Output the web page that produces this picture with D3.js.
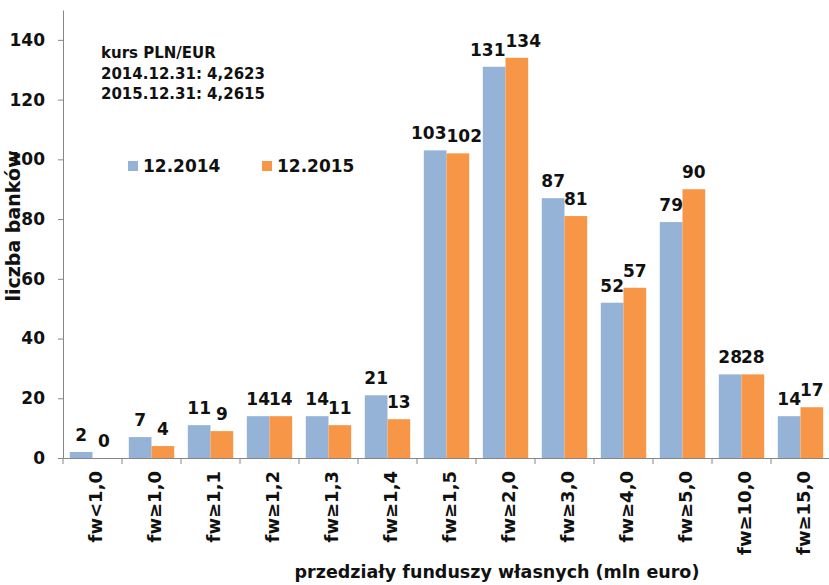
<!DOCTYPE html>
<html>
<head>
<meta charset="utf-8">
<script src="https://cdn.jsdelivr.net/npm/d3@7"></script>
<style>
  body { margin: 0; background: #fff; }
  svg { font-family: "DejaVu Sans", Verdana, sans-serif; font-weight: bold; }
</style>
</head>
<body>
<svg></svg>
<script>
const categories = ["fw<1,0", "fw≥1,0", "fw≥1,1", "fw≥1,2", "fw≥1,3", "fw≥1,4", "fw≥1,5", "fw≥2,0", "fw≥3,0", "fw≥4,0", "fw≥5,0", "fw≥10,0", "fw≥15,0"];
const seriesNames = ["12.2014", "12.2015"];
const values2014 = [2, 7, 11, 14, 14, 21, 103, 131, 87, 52, 79, 28, 14];
const values2015 = [0, 4, 9, 14, 11, 13, 102, 134, 81, 57, 90, 28, 17];
const yTicks = [0, 20, 40, 60, 80, 100, 120, 140];
const noteLines = ["kurs PLN/EUR", "2014.12.31: 4,2623", "2015.12.31: 4,2615"];

const colors = ["#95b3d7", "#f79646"];
const font = "DejaVu Sans";
const svg = d3.select("svg").attr("width", 829).attr("height", 585);
const plotLeft = 63, plotRight = 830, plotTop = 10, plotBottom = 458;

const x = d3.scaleBand().domain(categories).range([plotLeft, plotRight]);
const inner = d3.scaleBand().domain([0, 1]).range([0, x.bandwidth()]).paddingOuter(0.3).paddingInner(0);
const y = d3.scaleLinear().domain([0, 150]).range([plotBottom, plotTop]);

const rows = categories.map((c, i) => ({ cat: c, vals: [values2014[i], values2015[i]] }));

// bars
const groups = svg.append("g").selectAll("g").data(rows).join("g")
  .attr("transform", d => `translate(${x(d.cat)},0)`);
groups.selectAll("rect").data(d => d.vals).join("rect")
  .attr("x", (v, j) => inner(j))
  .attr("width", inner.bandwidth())
  .attr("y", v => y(v))
  .attr("height", v => plotBottom - y(v))
  .attr("fill", (v, j) => colors[j]);
groups.selectAll("text").data(d => d.vals).join("text")
  .attr("x", (v, j) => inner(j) + inner.bandwidth() / 2)
  .attr("y", v => y(v) - 11)
  .attr("text-anchor", "middle")
  .style("font-size", "17px")
  .attr("fill", "#111")
  .text(v => v);

// push apart the two value labels of a pair when they collide
groups.each(function () {
  const t = d3.select(this).selectAll("text").nodes();
  const a = t[0].getBBox(), b = t[1].getBBox();
  const overlap = (a.x + a.width) - b.x;
  if (overlap > 3 && Math.abs(a.y - b.y) < 10) {
    d3.select(t[0]).attr("x", +t[0].getAttribute("x") - overlap / 2);
    d3.select(t[1]).attr("x", +t[1].getAttribute("x") + overlap / 2);
  }
});

// y axis
const yAxis = svg.append("g").attr("transform", `translate(${plotLeft},0)`)
  .call(d3.axisLeft(y).tickValues(yTicks).tickSize(5).tickPadding(13).tickSizeOuter(0));
yAxis.select(".domain").attr("stroke", "#868686");
yAxis.selectAll(".tick line").attr("stroke", "#868686");
yAxis.selectAll(".tick text").style("font-size", "17px").style("font-family", font).style("font-weight", "bold").attr("fill", "#111");

// x axis
const xAxis = svg.append("g").attr("transform", `translate(0,${plotBottom})`)
  .call(d3.axisBottom(x).tickSize(0).tickSizeOuter(0).tickFormat(""));
xAxis.select(".domain").attr("stroke", "#868686");
xAxis.selectAll(".tick").remove();
xAxis.selectAll(".sep").data(categories.concat([null])).join("line")
  .attr("class", "sep")
  .attr("x1", (d, i) => plotLeft + i * x.step())
  .attr("x2", (d, i) => plotLeft + i * x.step())
  .attr("y1", 0).attr("y2", 6)
  .attr("stroke", "#868686");
xAxis.selectAll(".lbl").data(categories).join("text")
  .attr("class", "lbl")
  .attr("transform", d => `translate(${x(d) + x.bandwidth() / 2 + 3},13) rotate(-90)`)
  .attr("text-anchor", "end")
  .attr("dy", "0.35em")
  .style("font-family", font)
  .style("font-weight", "bold")
  .style("font-size", "18px")
  .attr("fill", "#111")
  .text(d => d);

// axis titles
svg.append("text")
  .attr("x", 497).attr("y", 578)
  .attr("text-anchor", "middle")
  .style("font-size", "17.5px")
  .attr("fill", "#111")
  .text("przedziały funduszy własnych (mln euro)");
svg.append("text")
  .attr("transform", "translate(20,226) rotate(-90)")
  .attr("text-anchor", "middle")
  .style("font-size", "19px")
  .attr("fill", "#111")
  .text("liczba banków");

// note
svg.append("g").selectAll("text").data(noteLines).join("text")
  .attr("x", 101).attr("y", (d, i) => 58 + i * 20.5)
  .style("font-size", "15px")
  .attr("fill", "#111")
  .text(d => d);

// legend
const legendX = [128, 262];
const legend = svg.append("g").selectAll("g").data(seriesNames).join("g")
  .attr("transform", (d, i) => `translate(${legendX[i]},161)`);
legend.append("rect").attr("width", 10).attr("height", 10).attr("fill", (d, i) => colors[i]);
legend.append("text").attr("x", 15).attr("y", 11)
  .style("font-size", "17px").attr("fill", "#111").text(d => d);
</script>
</body>
</html>
